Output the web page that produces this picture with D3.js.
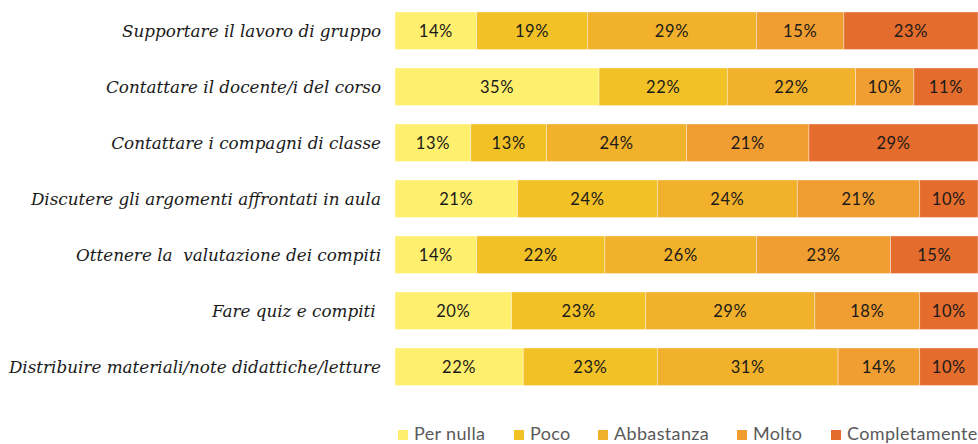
<!DOCTYPE html>
<html>
<head>
<meta charset="utf-8">
<script src="https://cdn.jsdelivr.net/npm/d3@7"></script>
<style>
  html, body { margin: 0; padding: 0; background: #fff; }
  svg { display: block; }
</style>
</head>
<body>
<svg id="chart" width="978" height="444"></svg>
<script>
// ---- data ----
const categories = [
  "Supportare il lavoro di gruppo",
  "Contattare il docente/i del corso",
  "Contattare i compagni di classe",
  "Discutere gli argomenti affrontati in aula",
  "Ottenere la  valutazione dei compiti",
  "Fare quiz e compiti ",
  "Distribuire materiali/note didattiche/letture"
];
const seriesNames = ["Per nulla", "Poco", "Abbastanza", "Molto", "Completamente"];
const perNulla      = [14, 35, 13, 21, 14, 20, 22];
const poco          = [19, 22, 13, 24, 22, 23, 23];
const abbastanza    = [29, 22, 24, 24, 26, 29, 31];
const molto         = [15, 10, 21, 21, 23, 18, 14];
const completamente = [23, 11, 29, 10, 15, 10, 10];
const seriesColors = ["#FFEF6E", "#F2C126", "#F2B12B", "#F09D31", "#E46C2C"];

// ---- build table ----
const seriesValues = [perNulla, poco, abbastanza, molto, completamente];
const rows = categories.map((c, i) => {
  const r = { cat: c };
  seriesNames.forEach((s, j) => r[s] = seriesValues[j][i]);
  return r;
});
const stacked = d3.stack().keys(seriesNames)(rows);

// ---- layout ----
const svg = d3.select("#chart");
const x = d3.scaleLinear().domain([0, 100]).range([395, 978]);
const y = d3.scaleBand().domain(categories).range([2.75, 394.75])
  .paddingInner(0.33).paddingOuter(0.165);
const color = d3.scaleOrdinal().domain(seriesNames).range(seriesColors);

// bars
const g = svg.append("g");
const layer = g.selectAll("g.layer").data(stacked).enter().append("g")
  .attr("class", "layer").attr("fill", d => color(d.key));
layer.selectAll("rect").data(d => d).enter().append("rect")
  .attr("x", d => x(d[0]))
  .attr("y", d => y(d.data.cat))
  .attr("width", d => x(d[1]) - x(d[0]))
  .attr("height", y.bandwidth())
  .attr("stroke", "#ffffff")
  .attr("stroke-opacity", 0.45)
  .attr("stroke-width", 0.8);

// value labels
layer.selectAll("text").data(d => d).enter().append("text")
  .attr("x", d => (x(d[0]) + x(d[1])) / 2)
  .attr("y", d => y(d.data.cat) + y.bandwidth() / 2)
  .attr("dy", "0.36em")
  .attr("text-anchor", "middle")
  .attr("font-family", "Lato, 'Open Sans', sans-serif")
  .attr("font-size", 16.5)
  .attr("letter-spacing", 0.6)
  .attr("fill", "#1a1a1a")
  .text(d => (d[1] - d[0]) + "%");

// category axis
const yAxis = d3.axisLeft(y).tickSize(0).tickPadding(0);
const ax = svg.append("g").attr("transform", "translate(381,0)").call(yAxis);
ax.select(".domain").remove();
ax.selectAll("text")
  .attr("font-family", "'DejaVu Serif', serif")
  .attr("font-style", "italic")
  .attr("font-size", 16.8)
  .attr("fill", "#1a1a1a")
  .attr("dy", "0.36em")
  .style("white-space", "pre");

// legend
const legendTextX = [414, 530, 614, 753, 847];
const legend = svg.append("g");
seriesNames.forEach((s, i) => {
  const it = legend.append("g");
  it.append("rect").attr("x", legendTextX[i] - 16).attr("y", 430).attr("width", 10).attr("height", 10)
    .attr("fill", color(s));
  it.append("text").attr("x", legendTextX[i]).attr("y", 440)
    .attr("font-family", "Lato, 'Open Sans', sans-serif")
    .attr("font-size", 18)
    .attr("letter-spacing", 0.35)
    .attr("fill", "#595959")
    .text(s);
});
</script>
</body>
</html>
